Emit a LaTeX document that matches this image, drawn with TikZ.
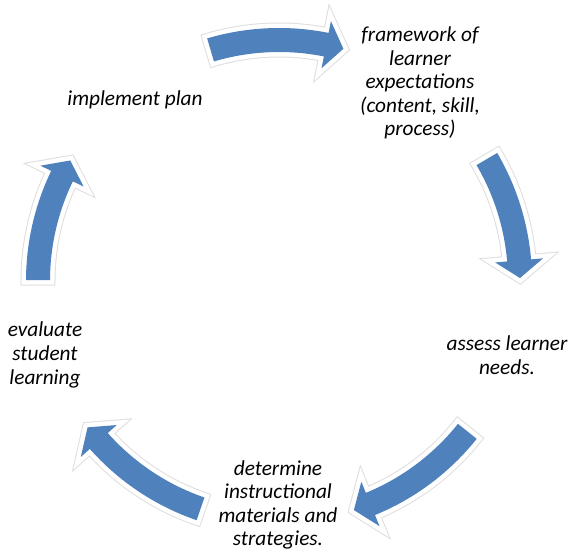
\documentclass[tikz,border=0pt]{standalone}
\usepackage{fontspec}
\setmainfont{Carlito}
\definecolor{accentblue}{HTML}{4F81BD}
\begin{document}
\begin{tikzpicture}[x=1pt,y=1pt,
  cycletext/.style={align=center, inner sep=0pt,
    font=\fontsize{21.3}{23.6}\selectfont\itshape},
  arrowhalo/.style={draw=black!13, line width=11pt, line join=miter},
  arrowrim/.style={draw=white, line width=9pt, line join=miter},
  arrowbody/.style={fill=accentblue}]
\useasboundingbox (0,0) rectangle (571,551);

% step labels
\node[cycletext] (framework) at (420,468) {framework of\\learner\\expectations\\(content, skill,\\process)};
\node[cycletext] (assess)    at (507,196) {assess learner\\needs.};
\node[cycletext] (determine) at (278,46)  {determine\\instructional\\materials and\\strategies.};
\node[cycletext] (evaluate)  at (45,196)  {evaluate\\student\\learning};
\node[cycletext] (implement) at (135,451) {implement plan};

% curved block arrows on the cycle circle, running clockwise
% each entry: tail angle / tip angle
\begin{scope}[shift={(279,270)}]
\foreach \ta/\tc in {106.5/74.5, 30.4/0.7, -38.6/-71.9, -109/-142.6, 179.8/150} {
  \pgfmathsetmacro\tb{\tc+4.2}
  \def\arrowoutline{(\ta:253) arc[start angle=\ta, end angle=\tb, radius=253]
    -- (\tb:265) -- (\tc:241) -- (\tb:217) -- (\tb:229)
    arc[start angle=\tb, end angle=\ta, radius=229] -- cycle}
  \draw[arrowhalo] \arrowoutline;
  \draw[arrowrim] \arrowoutline;
  \fill[arrowbody] \arrowoutline;
}
\end{scope}
\end{tikzpicture}
\end{document}
